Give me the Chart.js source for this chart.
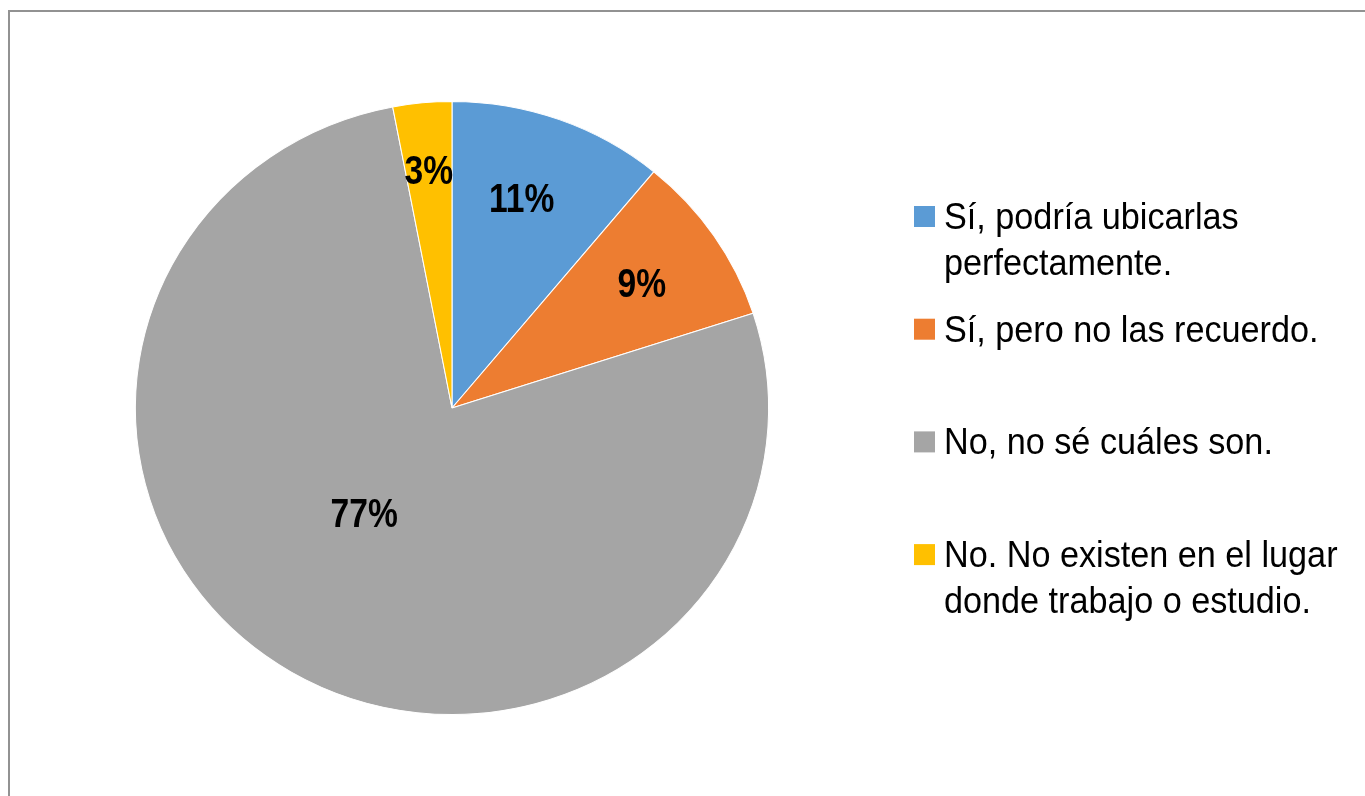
<!DOCTYPE html>
<html>
<head>
<meta charset="utf-8">
<script src="https://cdn.jsdelivr.net/npm/chart.js@4.4.1/dist/chart.umd.min.js"></script>
<style>
    html, body { margin: 0; padding: 0; background: #fff; overflow: hidden; }
    #frame { position: absolute; left: 8px; top: 10px; width: 1400px; height: 820px; border: 2px solid #929292; }
    #wrap { position: absolute; left: 0; top: 0; width: 1365px; height: 796px; }
</style>
</head>
<body>
<div id="frame"></div>
<div id="wrap"><canvas id="pieChart"></canvas></div>
<script>
// --- Data ---
const categories = [
    'Sí, podría ubicarlas perfectamente.',
    'Sí, pero no las recuerdo.',
    'No, no sé cuáles son.',
    'No. No existen en el lugar donde trabajo o estudio.'
];
const percents = [11, 9, 77, 3];

// --- Styles ---
const sliceColors = ['#5B9BD5', '#ED7D31', '#A5A5A5', '#FFC000'];
const stretchX = 1.033;              // original pie is a touch wider than tall
const labelRadius = [0.72, 0.725, 0.44, 0.78];
const labelNudgeDeg = [-2, 0, 8.5, 0];

// draws the pie slightly stretched horizontally
const stretchPlugin = {
    id: 'stretch',
    beforeDatasetsDraw(chart) {
        const arc = chart.getDatasetMeta(0).data[0];
        const ctx = chart.ctx;
        ctx.save();
        ctx.translate(arc.x, arc.y);
        ctx.scale(stretchX, 1);
        ctx.translate(-arc.x, -arc.y);
    },
    afterDatasetsDraw(chart) {
        chart.ctx.restore();
    }
};

// percentage labels inside slices
const pctLabels = {
    id: 'pctLabels',
    afterDatasetsDraw(chart) {
        const ctx = chart.ctx;
        const arcs = chart.getDatasetMeta(0).data;
        ctx.save();
        ctx.font = 'bold 40px "Liberation Sans", Arial, sans-serif';
        ctx.fillStyle = '#000';
        ctx.textAlign = 'center';
        ctx.textBaseline = 'alphabetic';
        arcs.forEach((arc, i) => {
            const p = arc.getProps(['x', 'y', 'startAngle', 'endAngle', 'outerRadius'], true);
            const mid = (p.startAngle + p.endAngle) / 2 + labelNudgeDeg[i] * Math.PI / 180;
            const r = p.outerRadius * labelRadius[i];
            const cx = p.x + Math.cos(mid) * r * stretchX;
            const cy = p.y + Math.sin(mid) * r;
            ctx.save();
            ctx.translate(cx, cy + 14);
            ctx.scale(0.84, 1);
            ctx.fillText(percents[i] + '%', 0, 0);
            ctx.restore();
        });
        ctx.restore();
    }
};

// legend on the right, wrapped text
const sideLegend = {
    id: 'sideLegend',
    afterDraw(chart) {
        const ctx = chart.ctx;
        const boxX = 914, boxSize = 21, textX = 944;
        const firstTop = 206, step = 112.7, lineH = 46;
        const squeeze = 0.95, maxW = 415;
        ctx.save();
        ctx.font = '36px "Liberation Sans", Arial, sans-serif';
        ctx.textBaseline = 'alphabetic';
        ctx.textAlign = 'left';
        categories.forEach((label, i) => {
            const top = firstTop + i * step;
            ctx.fillStyle = sliceColors[i];
            ctx.fillRect(boxX, top, boxSize, boxSize);
            // word wrap
            const words = label.split(' ');
            const lines = [];
            let cur = '';
            words.forEach(w => {
                const test = cur ? cur + ' ' + w : w;
                if (ctx.measureText(test).width * squeeze > maxW && cur) {
                    lines.push(cur);
                    cur = w;
                } else {
                    cur = test;
                }
            });
            lines.push(cur);
            ctx.fillStyle = '#000';
            lines.forEach((ln, k) => {
                ctx.save();
                ctx.translate(textX, top + 23 + k * lineH);
                ctx.scale(squeeze, 1);
                ctx.fillText(ln, 0, 0);
                ctx.restore();
            });
        });
        ctx.restore();
    }
};

const ctxPie = document.getElementById('pieChart').getContext('2d');

new Chart(ctxPie, {
    type: 'pie',
    data: {
        labels: categories,
        datasets: [{
            data: percents,
            backgroundColor: sliceColors,
            borderColor: '#ffffff',
            borderWidth: 1,
            clip: false
        }]
    },
    options: {
        responsive: true,
        maintainAspectRatio: false,
        animation: false,
        events: [],
        layout: {
            padding: { left: 145, right: 606, top: 101, bottom: 81 }
        },
        plugins: {
            legend: { display: false },
            tooltip: { enabled: false }
        }
    },
    plugins: [stretchPlugin, pctLabels, sideLegend]
});
</script>
</body>
</html>
